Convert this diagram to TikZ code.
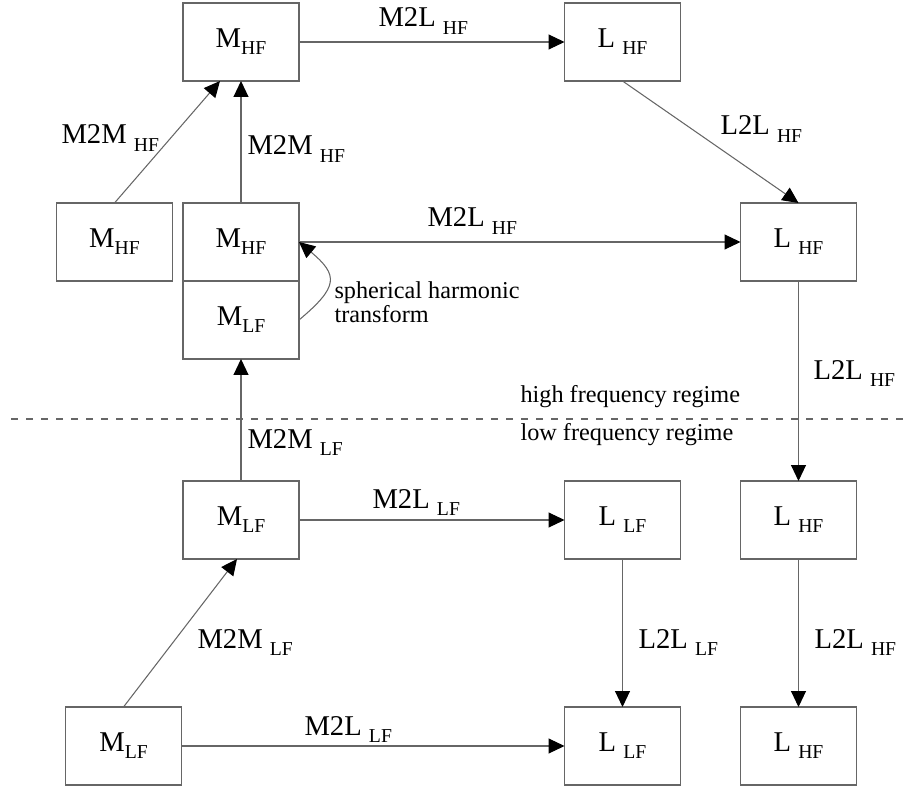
\documentclass[tikz,border=0pt]{standalone}
\usepackage{fontspec}
\setmainfont{Liberation Serif}
\usepackage{tikz}
\usetikzlibrary{calc}
\usetikzlibrary{positioning}
\usetikzlibrary{arrows.meta}
\definecolor{lineGray}{gray}{0.4}
\newcommand{\fsub}[1]{\raisebox{-4pt}{\fontsize{11.2}{12}\selectfont #1}}
\tikzset{every picture/.style={line width=0.6pt}}
\tikzset{expbox/.style={draw=lineGray, minimum width=2.32cm, minimum height=1.56cm, inner sep=0pt, outer sep=0pt, font=\fontsize{16.3}{18}\selectfont}}
\tikzset{oplabel/.style={anchor=base west, inner sep=0pt, font=\fontsize{16.3}{18}\selectfont}}
\tikzset{smalltext/.style={anchor=base west, inner sep=0pt, font=\fontsize{13.8}{14.2}\selectfont}}

\begin{document}
\begin{tikzpicture}[>={Triangle[length=0.32cm,width=0.3cm,color=black]}]
            \useasboundingbox (0,0) rectangle (18.1,15.84);
            % high frequency part
            \node[expbox] (mhfA) at (4.82,15.0) {M\fsub{HF}};
            \node[expbox] (lhfA) at (12.45,15.0) {L \fsub{HF}};
            \node[expbox] (mhfL) at (2.29,11.0) {M\fsub{HF}};
            \node[expbox] (mhfB) at (4.82,11.0) {M\fsub{HF}};
            \node[expbox] (mlfB) at (4.82,9.44) {M\fsub{LF}};
            \node[expbox] (lhfB) at (15.97,11.0) {L \fsub{HF}};
            % low frequency part
            \node[expbox] (mlfC) at (4.82,5.44) {M\fsub{LF}};
            \node[expbox] (llfC) at (12.45,5.44) {L \fsub{LF}};
            \node[expbox] (lhfC) at (15.97,5.44) {L \fsub{HF}};
            \node[expbox] (mlfD) at (2.47,0.92) {M\fsub{LF}};
            \node[expbox] (llfD) at (12.45,0.92) {L \fsub{LF}};
            \node[expbox] (lhfD) at (15.97,0.92) {L \fsub{HF}};

            \draw[->, lineGray] (mhfA) -- (lhfA);
            \node[oplabel] (m2lA) at (7.56,15.30) {M2L \fsub{HF}};
            \draw[->, lineGray] (mhfL.north) -- ([xshift=-0.42cm]mhfA.south);
            \node[oplabel] (m2mL) at (1.22,12.96) {M2M \fsub{HF}};
            \draw[->, lineGray] (mhfB) -- (mhfA);
            \node[oplabel] (m2mB) at (4.94,12.74) {M2M \fsub{HF}};
            \draw[->, lineGray] (lhfA.south) -- (lhfB.north);
            \node[oplabel] (l2lA) at (14.40,13.14) {L2L \fsub{HF}};
            \draw[->, lineGray] (mhfB) -- (lhfB);
            \node[oplabel] (m2lB) at (8.54,11.30) {M2L \fsub{HF}};
            \draw[->, lineGray] (mlfB.east) [out=40,in=-40,looseness=1.7] to (mhfB.east);
            \node[smalltext, align=left] (sht) at (6.68,9.38) {spherical harmonic\\transform};
            \draw[->, lineGray] (lhfB) -- (lhfC);
            \node[oplabel] (l2lB) at (16.26,8.26) {L2L \fsub{HF}};

            % regime border
            \coordinate (regL) at (0.22,7.46);
            \coordinate (regR) at (18.1,7.46);
            \draw[lineGray, dash pattern=on 0.14cm off 0.16cm] (regL) -- (regR);
            \node[smalltext] (hfreg) at (10.40,7.78) {high frequency regime};
            \node[smalltext] (lfreg) at (10.40,7.02) {low frequency regime};

            \draw[->, lineGray] (mlfC) -- (mlfB);
            \node[oplabel] (m2mC) at (4.94,6.88) {M2M \fsub{LF}};
            \draw[->, lineGray] (mlfC) -- (llfC);
            \node[oplabel] (m2lC) at (7.44,5.68) {M2L \fsub{LF}};
            \draw[->, lineGray] (llfC) -- (llfD);
            \node[oplabel] (l2lC) at (12.76,2.88) {L2L \fsub{LF}};
            \draw[->, lineGray] (lhfC) -- (lhfD);
            \node[oplabel] (l2lD) at (16.28,2.88) {L2L \fsub{HF}};
            \draw[->, lineGray] (mlfD.north) -- ([xshift=-0.08cm]mlfC.south);
            \node[oplabel] (m2mD) at (3.94,2.88) {M2M \fsub{LF}};
            \draw[->, lineGray] (mlfD) -- (llfD);
            \node[oplabel] (m2lD) at (6.08,1.14) {M2L \fsub{LF}};
        \end{tikzpicture}
\end{document}
